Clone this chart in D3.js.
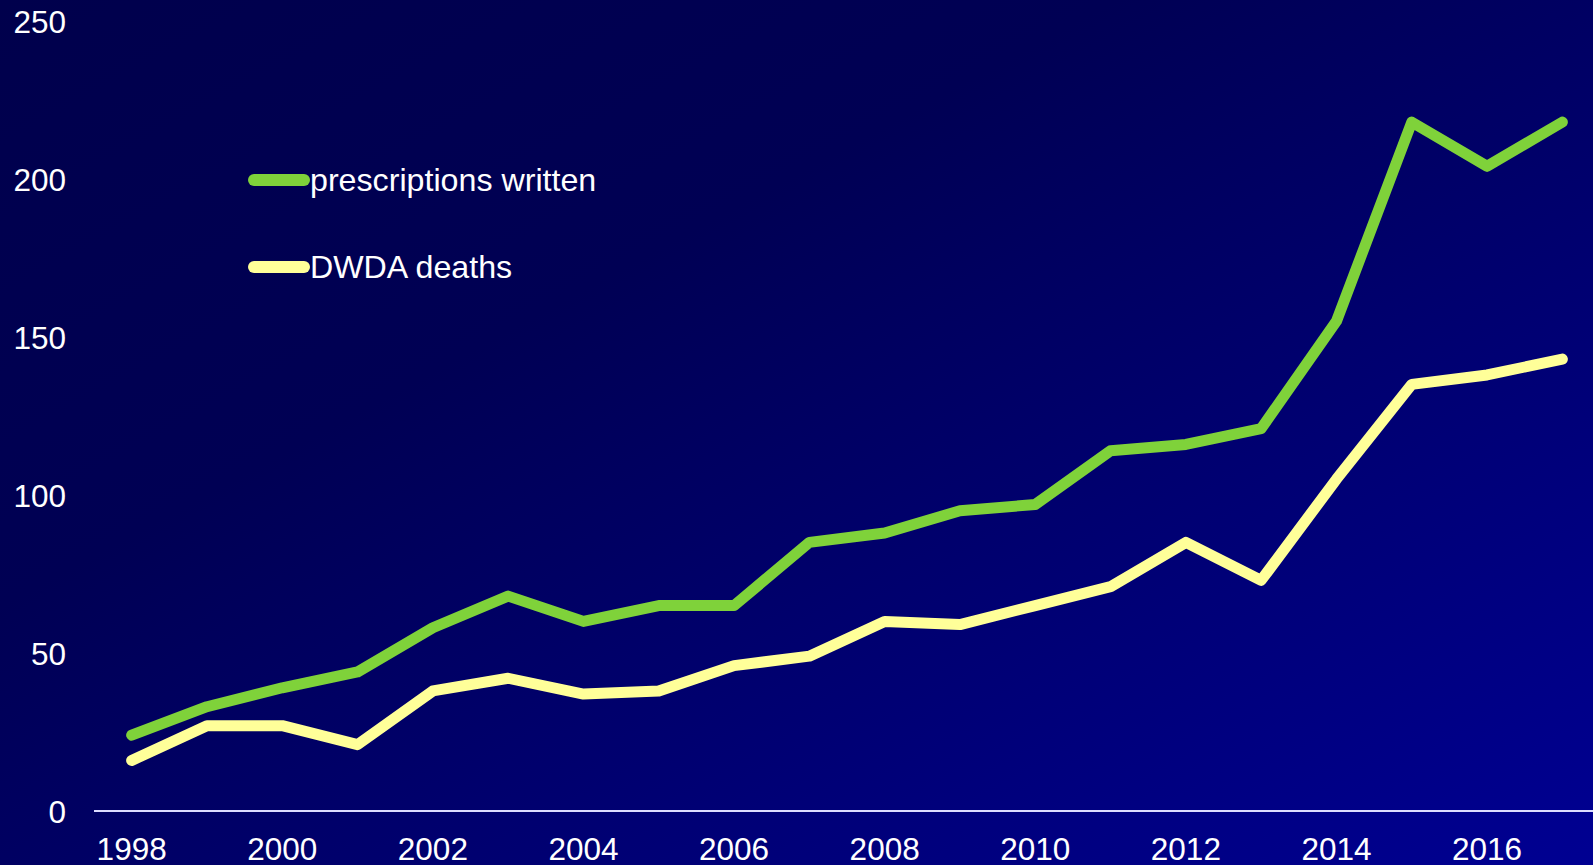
<!DOCTYPE html>
<html>
<head>
<meta charset="utf-8">
<script src="https://cdn.jsdelivr.net/npm/d3@7"></script>
<style>
  html, body { margin: 0; padding: 0; background: #000050; overflow: hidden; }
  svg { display: block; font-family: "Liberation Sans", Arial, sans-serif; }
</style>
</head>
<body>
<svg id="chart" width="1593" height="865"></svg>
<script>
// Oregon Death with Dignity Act, 1998–2017
const years = d3.range(1998, 2018);
const prescriptions = [24, 33, 39, 44, 58, 68, 60, 65, 65, 85, 88, 95, 97, 114, 116, 121, 155, 218, 204, 218];
const deaths = [16, 27, 27, 21, 38, 42, 37, 38, 46, 49, 60, 59, 65, 71, 85, 73, 105, 135, 138, 143];
const yTicks = [0, 50, 100, 150, 200, 250];
const xTickYears = [1998, 2000, 2002, 2004, 2006, 2008, 2010, 2012, 2014, 2016];

const seriesList = [
  { name: "prescriptions written", values: prescriptions, color: "#7fd23a" },
  { name: "DWDA deaths", values: deaths, color: "#ffff99" }
];

const W = 1593, H = 865;
const svg = d3.select("#chart");

// background gradient
const defs = svg.append("defs");
const grad = defs.append("linearGradient")
  .attr("id", "bg").attr("x1", 0).attr("y1", 0).attr("x2", 1).attr("y2", 1);
grad.append("stop").attr("offset", "0").attr("stop-color", "#00004c");
grad.append("stop").attr("offset", "0.35").attr("stop-color", "#000054");
grad.append("stop").attr("offset", "1").attr("stop-color", "#000092");
svg.append("rect").attr("width", W).attr("height", H).attr("fill", "url(#bg)");

const x = d3.scaleBand().domain(years).range([94, 1600]);
const xc = yr => x(yr) + x.bandwidth() / 2;
const y = d3.scaleLinear().domain([0, 250]).range([811, 21]);

// y-axis labels
const yAxis = d3.axisLeft(y).tickValues(yTicks).tickSize(0).tickPadding(0);
const gy = svg.append("g").attr("transform", "translate(66,0)").call(yAxis);
gy.select(".domain").remove();
gy.selectAll("text")
  .attr("fill", "#ffffff")
  .attr("font-size", "31.5px")
  .attr("font-family", "Liberation Sans, Arial, sans-serif")
  .attr("dy", "0.35em");

// x-axis
const xAxis = d3.axisBottom(x).tickValues(xTickYears).tickSize(0).tickPadding(0);
const gx = svg.append("g").attr("transform", "translate(0,811)").call(xAxis);
gx.select(".domain").remove();
gx.selectAll("text")
  .attr("fill", "#ffffff")
  .attr("font-size", "31.5px")
  .attr("font-family", "Liberation Sans, Arial, sans-serif")
  .attr("y", 49)
  .attr("dy", 0);
svg.append("line")
  .attr("x1", x.range()[0]).attr("x2", W)
  .attr("y1", y(0)).attr("y2", y(0))
  .attr("stroke", "#dcdcff").attr("stroke-width", 2);

// series lines
const line = d3.line().x((d, i) => xc(years[i])).y(d => y(d));
svg.selectAll("path.series")
  .data(seriesList)
  .join("path")
  .attr("class", "series")
  .attr("d", s => line(s.values))
  .attr("fill", "none")
  .attr("stroke", s => s.color)
  .attr("stroke-width", 11)
  .attr("stroke-linecap", "round")
  .attr("stroke-linejoin", "round");

// legend
const legend = svg.append("g").attr("transform", "translate(248,180)");
const items = legend.selectAll("g")
  .data(seriesList)
  .join("g")
  .attr("transform", (d, i) => `translate(0,${i * 87})`);
items.append("line")
  .attr("x1", 6).attr("x2", 56).attr("y1", 0).attr("y2", 0)
  .attr("stroke", d => d.color)
  .attr("stroke-width", 12)
  .attr("stroke-linecap", "round");
items.append("text")
  .attr("x", 62).attr("y", 11)
  .attr("fill", "#ffffff")
  .attr("font-size", "32.2px")
  .text(d => d.name);
</script>
</body>
</html>
